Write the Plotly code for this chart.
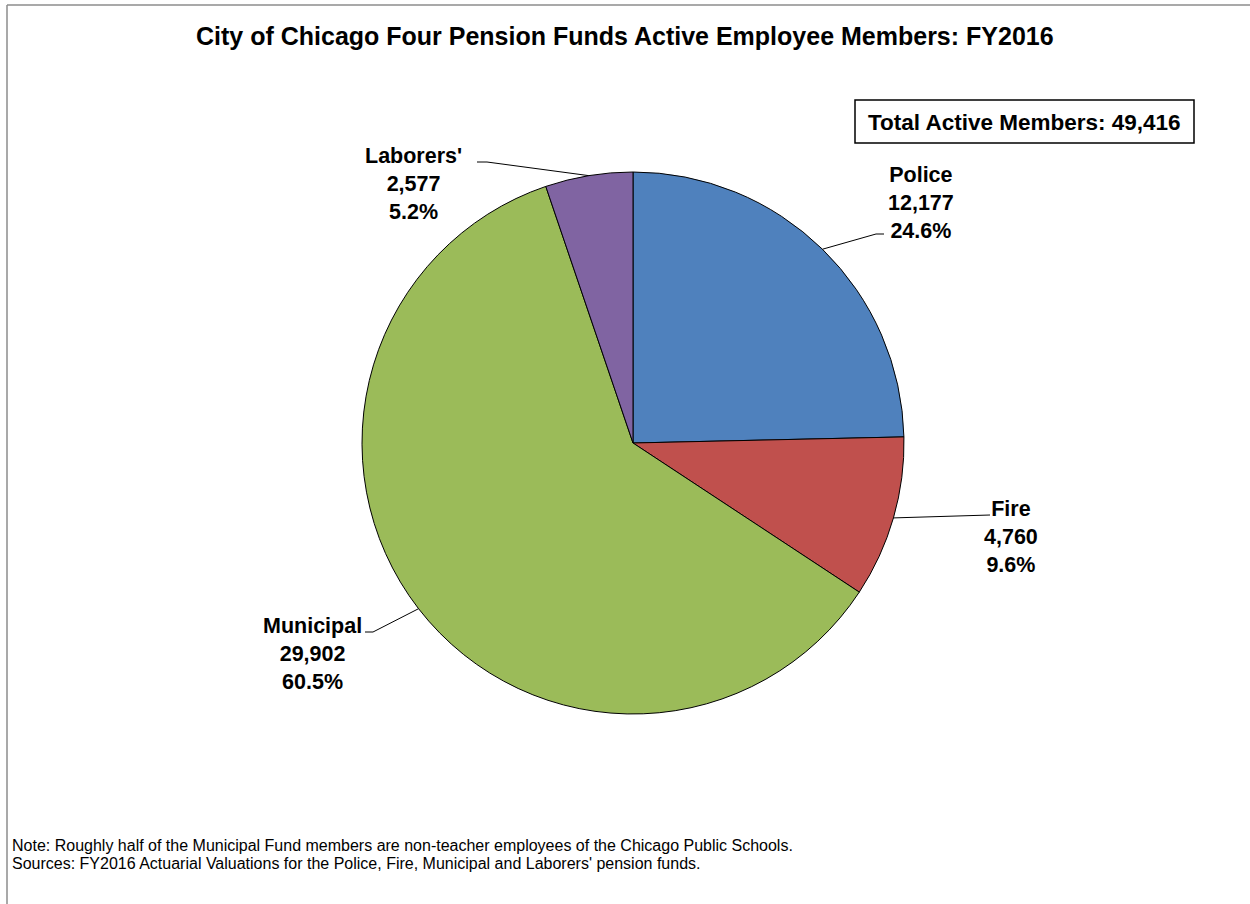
import math
import plotly.graph_objects as go

# ---- data ----
funds = ["Police", "Fire", "Municipal", "Laborers'"]
members = [12177, 4760, 29902, 2577]
colors = ["#4F81BD", "#C0504D", "#9BBB59", "#8064A2"]
title_text = "City of Chicago Four Pension Funds Active Employee Members: FY2016"
note_lines = [
    "Note: Roughly half of the Municipal Fund members are non-teacher employees of the Chicago Public Schools.",
    "Sources: FY2016 Actuarial Valuations for the Police, Fire, Municipal and Laborers' pension funds.",
]

W, H = 1250, 904
FONT = "Arial, Liberation Sans, sans-serif"

# pie geometry (pixels)
cx, cy, R = 633, 443, 271


def px(x):
    return x / W


def py(y):
    return 1 - y / H


fig = go.Figure()
fig.add_trace(go.Pie(
    labels=funds, values=members, sort=False, direction="clockwise", rotation=0,
    marker=dict(colors=colors, line=dict(color="black", width=1)),
    textinfo="none", hoverinfo="label+value+percent", showlegend=False,
    domain=dict(x=[px(cx - R), px(cx + R)], y=[py(cy + R), py(cy - R)]),
))

total = sum(members)
# label text block placement (center x, middle y) and leader elbow (x,y) with end (x)
label_pos = {
    "Police": dict(tx=921, ty=203, elbow=(876, 234), end=884),
    "Fire": dict(tx=1011, ty=537, elbow=(990, 515), end=990),
    "Municipal": dict(tx=312, ty=654, elbow=(373, 632), end=365),
    "Laborers'": dict(tx=413, ty=184, elbow=(487, 162), end=477),
}

annotations = []
shapes = []
cum = 0
for name, v in zip(funds, members):
    mid = (cum + v / 2) / total * 2 * math.pi
    cum += v
    ex = cx + R * math.sin(mid)
    ey = cy - R * math.cos(mid)
    lp = label_pos[name]
    bx, by = lp["elbow"]
    path = f"M {px(ex)},{py(ey)} L {px(bx)},{py(by)} L {px(lp['end'])},{py(by)}"
    shapes.append(dict(type="path", xref="paper", yref="paper", path=path,
                       line=dict(color="black", width=1)))
    pct = v / total * 100
    annotations.append(dict(
        x=px(lp["tx"]), y=py(lp["ty"]), xref="paper", yref="paper",
        xanchor="center", yanchor="middle", showarrow=False, align="center",
        text=f"<b>{name}<br>{v:,}<br>{pct:.1f}%</b>",
        font=dict(family=FONT, size=21.5, color="black"),
    ))

# title
annotations.append(dict(x=px(625), y=py(36), xref="paper", yref="paper",
                        xanchor="center", yanchor="middle", showarrow=False,
                        text=f"<b>{title_text}</b>",
                        font=dict(family=FONT, size=25, color="black")))
# total box
shapes.append(dict(type="rect", xref="paper", yref="paper",
                   x0=px(855), x1=px(1194), y0=py(143), y1=py(100),
                   line=dict(color="black", width=1.5), fillcolor="white"))
annotations.append(dict(x=px(1024.5), y=py(122), xref="paper", yref="paper",
                        xanchor="center", yanchor="middle", showarrow=False,
                        text=f"<b>Total Active Members: {total:,}</b>",
                        font=dict(family=FONT, size=22.5, color="black")))
# notes
for i, line in enumerate(note_lines):
    annotations.append(dict(x=px(10), y=py(845 + 18 * i), xref="paper", yref="paper",
                            xanchor="left", yanchor="middle", showarrow=False, align="left",
                            text=line,
                            font=dict(family=FONT, size=16, color="black")))
# chart area border (left and top visible)
shapes.append(dict(type="line", xref="paper", yref="paper", x0=px(7), x1=px(7),
                   y0=py(5), y1=py(904), line=dict(color="#8c8c8c", width=1.5)))
shapes.append(dict(type="line", xref="paper", yref="paper", x0=px(7), x1=px(1250),
                   y0=py(5), y1=py(5), line=dict(color="#8c8c8c", width=1.5)))

fig.update_layout(
    width=W, height=H, margin=dict(l=0, r=0, t=0, b=0),
    paper_bgcolor="white", plot_bgcolor="white",
    annotations=annotations, shapes=shapes,
)
fig.write_html("out.html", config={"displayModeBar": False},
               post_script="document.body.style.margin='0';")
